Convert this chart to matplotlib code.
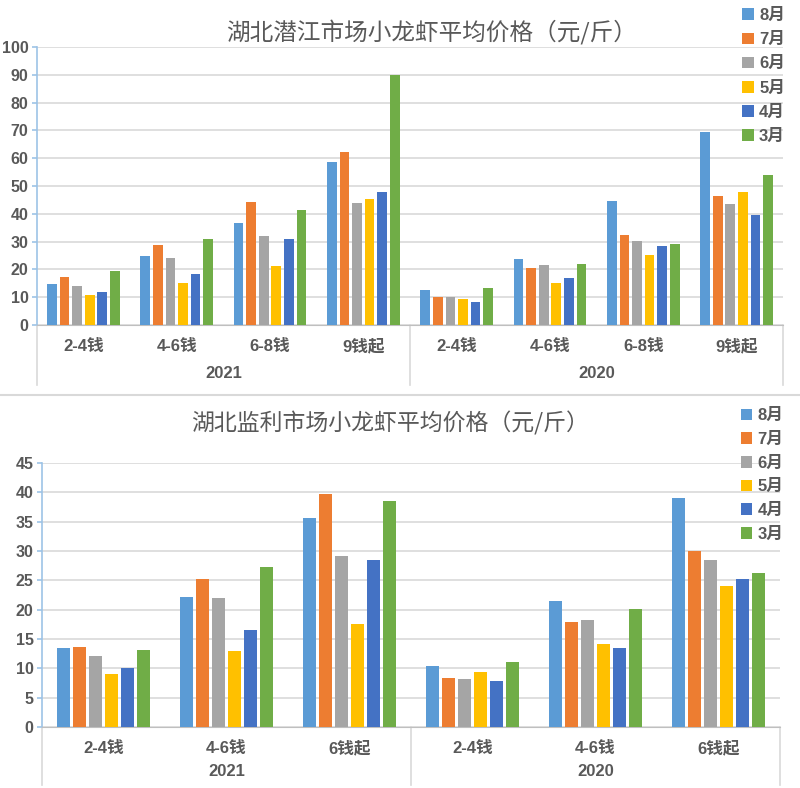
import matplotlib
matplotlib.use('Agg')
import matplotlib.pyplot as plt
import matplotlib.transforms as mtransforms
import numpy as np

plt.rcParams['font.family'] = ['Liberation Sans', 'Noto Sans CJK SC', 'DejaVu Sans']

months = ['8月', '7月', '6月', '5月', '4月', '3月']
colors = ['#5B9BD5', '#ED7D31', '#A5A5A5', '#FFC000', '#4472C4', '#70AD47']
years = ['2021', '2020']

# 潜江
qj_sizes = ['2-4钱', '4-6钱', '6-8钱', '9钱起']
qj_2021 = [
    [14.7, 24.7, 36.8, 58.8],   # 8月
    [17.1, 28.6, 44.2, 62.3],   # 7月
    [14.0, 24.0, 31.9, 43.8],   # 6月
    [10.7, 15.0, 21.3, 45.3],   # 5月
    [11.9, 18.3, 31.0, 48.0],   # 4月
    [19.5, 31.0, 41.3, 90.0],   # 3月
]
qj_2020 = [
    [12.5, 23.6, 44.7, 69.5],
    [10.1, 20.6, 32.3, 46.5],
    [10.1, 21.5, 30.1, 43.5],
    [9.5, 15.1, 25.2, 47.7],
    [8.4, 17.0, 28.5, 39.5],
    [13.3, 22.1, 29.2, 54.1],
]

# 监利
jl_sizes = ['2-4钱', '4-6钱', '6钱起']
jl_2021 = [
    [13.5, 22.2, 35.7],
    [13.7, 25.3, 39.7],
    [12.1, 22.0, 29.1],
    [9.1, 12.9, 17.5],
    [10.1, 16.5, 28.5],
    [13.1, 27.3, 38.5],
]
jl_2020 = [
    [10.4, 21.4, 39.0],
    [8.3, 17.9, 30.0],
    [8.2, 18.3, 28.4],
    [9.4, 14.1, 24.0],
    [7.8, 13.5, 25.3],
    [11.1, 20.1, 26.2],
]

txt = '#595959'
grid = '#D9D9D9'


def draw(fig, rect, sizes, d21, d20, ymax, ystep, step, width, title, title_xy, title_size,
         leg_xy, leg_space, line_depth, year_y):
    ax = fig.add_axes(rect)
    n = len(sizes)
    cats = sizes + sizes
    x = np.arange(2 * n)
    for i in range(6):
        vals = d21[i] + d20[i]
        ax.bar(x + (i - 2.5) * step, vals, width=width, color=colors[i], label=months[i], zorder=3)
    ax.set_xlim(-0.5, 2 * n - 0.5)
    ax.set_ylim(0, ymax)
    ax.set_yticks(np.arange(0, ymax + 0.1, ystep))
    ax.yaxis.grid(True, color=grid, lw=1.2, zorder=0)
    for s in ['top', 'right']:
        ax.spines[s].set_visible(False)
    ax.spines['left'].set_color('#9DC3E6')
    ax.spines['left'].set_linewidth(1.2)
    ax.spines['bottom'].set_color('#BFBFBF')
    ax.tick_params(axis='y', colors='#9DC3E6', length=3.5, width=1.2, pad=2.5,
                   labelcolor=txt, labelsize=11.5)
    for t in ax.get_yticklabels():
        t.set_fontweight('bold')
    ax.set_xticks(x)
    ax.set_xticklabels(cats, fontsize=12, fontweight='bold', color=txt)
    ax.tick_params(axis='x', length=0, pad=10)
    tr = mtransforms.blended_transform_factory(ax.transData, ax.transAxes)
    for xv in [-0.5, n - 0.5, 2 * n - 0.5]:
        ax.plot([xv, xv], [0, -line_depth], transform=tr, color='#D9D9D9', lw=1.2, clip_on=False)
    for k, yr in enumerate(years):
        ax.text(k * n + (n - 1) / 2, year_y, yr, transform=tr, ha='center', va='center',
                fontsize=12, fontweight='bold', color=txt)
    fig.text(title_xy[0], title_xy[1], title, ha='center', va='center', fontsize=title_size,
             color=txt, family=['Noto Sans CJK SC', 'DejaVu Sans'])
    leg = ax.legend(loc='upper left', bbox_to_anchor=leg_xy, bbox_transform=fig.transFigure,
                    frameon=False, handlelength=0.7, handleheight=0.7, handletextpad=0.3,
                    labelspacing=leg_space, borderaxespad=0, borderpad=0,
                    prop={'size': 12, 'weight': 'bold', 'family': ['Liberation Sans', 'Noto Sans CJK SC']})
    for t in leg.get_texts():
        t.set_color(txt)
    return ax


fig = plt.figure(figsize=(8, 7.88), dpi=100)

draw(fig, [0.046, 0.5876, 0.933, 0.3527], qj_sizes, qj_2021, qj_2020, 100, 10,
     0.135, 0.104, '湖北潜江市场小龙虾平均价格（元/斤）', (0.539, 0.958), 17,
     (0.928, 0.990), 0.55, 0.216, -0.173)

draw(fig, [0.0525, 0.0774, 0.9225, 0.335], jl_sizes, jl_2021, jl_2020, 45, 5,
     0.13, 0.1, '湖北监利市场小龙虾平均价格（元/斤）', (0.4875, 0.463), 16.5,
     (0.926, 0.482), 0.52, 0.22, -0.167)

fig.add_artist(plt.Line2D([0, 1], [1 - 395 / 788, 1 - 395 / 788], transform=fig.transFigure,
                          color='#D9D9D9', lw=1.5))

fig.savefig('out.png', dpi=100)
